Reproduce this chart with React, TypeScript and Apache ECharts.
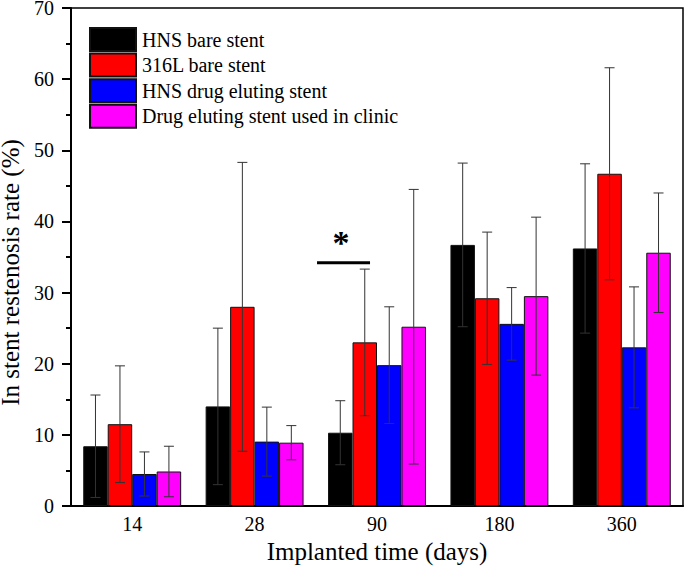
import React, { useEffect, useRef } from "react";
import * as echarts from "echarts";

const categories = ["14", "28", "90", "180", "360"];
const seriesNames = [
  "HNS bare stent",
  "316L bare stent",
  "HNS drug eluting stent",
  "Drug eluting stent used in clinic",
];
const colors = ["#000000", "#ff0000", "#0000ff", "#ff00ff"];
const hnsBare = [8.4, 14.0, 10.3, 36.7, 36.2];
const l316Bare = [11.5, 28.0, 23.0, 29.2, 46.7];
const hnsDrug = [4.5, 9.05, 19.8, 25.6, 22.3];
const clinicDrug = [4.85, 8.9, 25.2, 29.5, 35.6];
const hnsBareErr = [7.2, 11.0, 4.5, 11.5, 11.9];
const l316BareErr = [8.2, 20.3, 10.3, 9.3, 14.9];
const hnsDrugErr = [3.1, 4.85, 8.2, 5.1, 8.5];
const clinicDrugErr = [3.55, 2.4, 19.3, 11.1, 8.4];
const sigCategory = 2;
const sigLevel = 34.2;
const sigLabel = "*";

const FONT = "Liberation Serif";

export default function App() {
  const ref = useRef<HTMLDivElement>(null);
  useEffect(() => {
    if (!ref.current) return;
    const chart = echarts.init(ref.current, null, { renderer: "svg" });
    const values = [hnsBare, l316Bare, hnsDrug, clinicDrug];
    const errs = [hnsBareErr, l316BareErr, hnsDrugErr, clinicDrugErr];
    const errData: number[][] = [];
    values.forEach((vals, s) => {
      vals.forEach((v, c) => {
        errData.push([c, v - errs[s][c], v + errs[s][c], s]);
      });
    });

    const barSeries = values.map((vals, s) => ({
      type: "bar",
      name: seriesNames[s],
      data: vals,
      barGap: "0%",
      barCategoryGap: "20%",
      itemStyle: { color: colors[s], borderColor: "#111", borderWidth: 1 },
      z: 2,
    }));

    chart.setOption({
      animation: false,
      backgroundColor: "#fff",
      grid: {
        left: 71,
        right: 2,
        top: 8,
        bottom: 61,
        containLabel: false,
        outerBoundsMode: "none",
        show: true,
        borderColor: "#000",
        borderWidth: 1.5,
        backgroundColor: "transparent",
      },
      legend: {
        orient: "vertical",
        left: 89,
        top: 27,
        padding: 0,
        itemWidth: 46,
        itemHeight: 23,
        itemGap: 0.6,
        icon: "rect",
        textStyle: { fontFamily: FONT, fontSize: 20, lineHeight: 23, color: "#000", padding: [0, 0, 0, 1] },
        data: seriesNames,
      },
      xAxis: {
        type: "category",
        data: categories,
        name: "Implanted time (days)",
        nameLocation: "middle",
        nameGap: 32,
        nameTextStyle: { fontFamily: FONT, fontSize: 25, color: "#000" },
        axisLine: { lineStyle: { color: "#000", width: 2 } },
        axisTick: { show: false },
        axisLabel: { fontFamily: FONT, fontSize: 20, color: "#000", margin: 8 },
      },
      yAxis: {
        type: "value",
        min: 0,
        max: 70,
        interval: 10,
        name: "In stent restenosis rate (%)",
        nameLocation: "middle",
        nameGap: 50,
        nameTextStyle: {
          fontFamily: FONT,
          fontSize: 25,
          lineHeight: 20,
          color: "#000",
          padding: [0, 31, 0, 0],
        },
        axisLine: { show: true, lineStyle: { color: "#000", width: 2 } },
        axisTick: { show: true, inside: false, length: 9, lineStyle: { color: "#000", width: 2 } },
        minorTick: { show: true, splitNumber: 2, length: 5, lineStyle: { color: "#000", width: 2 } },
        splitLine: { show: false },
        axisLabel: { fontFamily: FONT, fontSize: 20, lineHeight: 14, color: "#000", margin: 17 },
      },
      series: [
        ...barSeries,
        {
          type: "custom",
          name: "errors",
          z: 5,
          data: errData,
          renderItem: (params: any, api: any) => {
            const c = api.value(0);
            const lo = api.value(1);
            const hi = api.value(2);
            const s = api.value(3);
            const bw = api.size([1, 0])[0];
            const barW = (bw * 0.8) / 4;
            const p1 = api.coord([c, hi]);
            const p2 = api.coord([c, lo]);
            const x = p1[0] + (s - 1.5) * barW;
            const style = { stroke: "#333", lineWidth: 1 };
            return {
              type: "group",
              children: [
                { type: "line", shape: { x1: x, y1: p1[1], x2: x, y2: p2[1] }, style },
                { type: "line", shape: { x1: x - 5, y1: p1[1], x2: x + 5, y2: p1[1] }, style },
                { type: "line", shape: { x1: x - 5, y1: p2[1], x2: x + 5, y2: p2[1] }, style },
              ],
            };
          },
        },
        {
          type: "custom",
          name: "significance",
          z: 6,
          data: [[sigCategory, sigLevel]],
          renderItem: (params: any, api: any) => {
            const p = api.coord([api.value(0), api.value(1)]);
            const bw = api.size([1, 0])[0];
            const x1 = p[0] - 0.49 * bw;
            const x2 = p[0] - 0.057 * bw;
            const xc = p[0] - 0.294 * bw;
            return {
              type: "group",
              children: [
                { type: "line", shape: { x1, y1: p[1], x2, y2: p[1] }, style: { stroke: "#000", lineWidth: 3 } },
                {
                  type: "text",
                  x: xc,
                  y: p[1] - 20,
                  style: {
                    text: sigLabel,
                    fontFamily: FONT,
                    fontSize: 34,
                    fontWeight: "bold",
                    fill: "#000",
                    align: "center",
                    verticalAlign: "middle",
                  },
                },
              ],
            };
          },
        },
      ],
    });
    return () => chart.dispose();
  }, []);
  return (
    <div
      ref={ref}
      style={{ position: "fixed", left: 0, top: 0, width: 685, height: 567, background: "#fff" }}
    />
  );
}
